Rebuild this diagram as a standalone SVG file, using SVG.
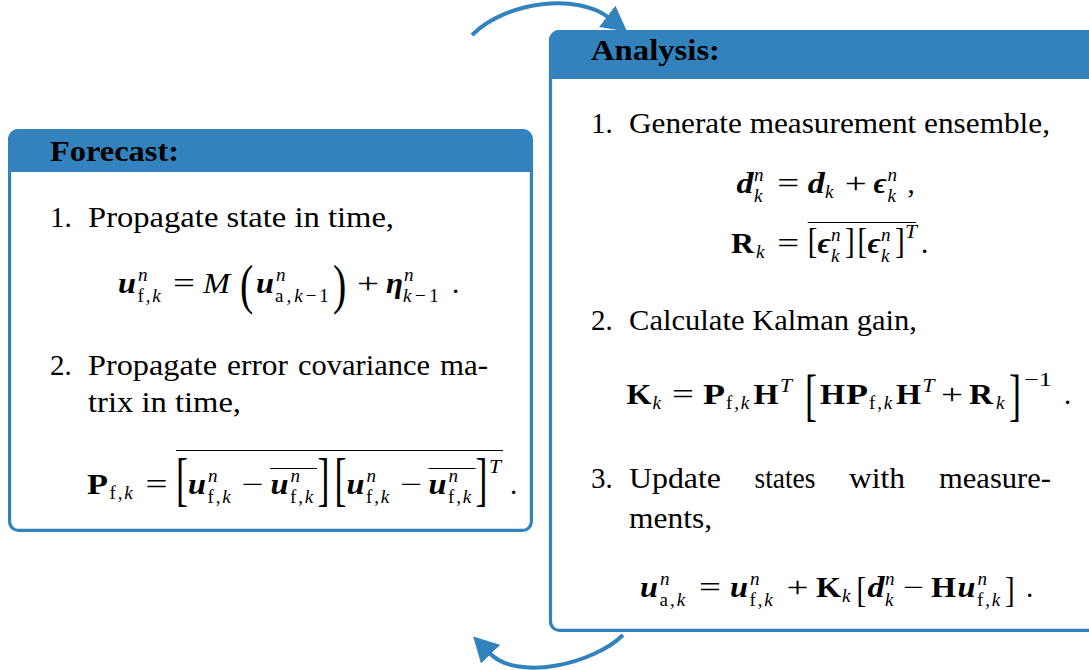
<svg xmlns="http://www.w3.org/2000/svg" width="1089" height="670" viewBox="0 0 1089 670" font-family="'Liberation Serif', 'DejaVu Serif', serif">
<defs>
<style>
text { font-family: 'Liberation Serif', 'DejaVu Serif', serif; font-size: 29px; fill: #000; }
.bf { font-weight: bold; }
.bi { font-weight: bold; font-style: italic; }
.it { font-style: italic; }
.s { font-size: 19px; }
.w1 { letter-spacing: 1.8px; }
.box { fill: #fff; stroke: #3282be; stroke-width: 3.2; }
.hdr { fill: #3282be; }
.arr { fill: none; stroke: #3282be; stroke-width: 4; marker-end: url(#ah); }
.ovl { stroke: #000; stroke-width: 1.2; }
.big { font-size: 36px; }
</style>
<marker id="ah" markerUnits="userSpaceOnUse" viewBox="0 0 25 27" markerWidth="25" markerHeight="27" refX="1" refY="13.5" orient="auto">
<path d="M0,0 L25,13.5 L0,27 Z" fill="#3282be"/>
</marker>
</defs>
<rect width="1089" height="670" fill="#fff"/>

<g id="connectors">
<path class="arr" d="M472,35 C508,0 578,-6 608,17"/>
<path class="arr" d="M623,635 C595,663 518,682 490,653.5"/>
</g>

<g id="forecast">
<rect class="box" x="9.6" y="130.6" width="521.8" height="399.8" rx="9"/>
<path class="hdr" d="M8,172 V139.5 A10.5,10.5 0 0 1 18.5,129 H522.5 A10.5,10.5 0 0 1 533,139.5 V172 Z"/>
<text class="bf" x="50" y="161" textLength="129" lengthAdjust="spacingAndGlyphs">Forecast:</text>
<text x="50" y="227">1.</text>
<text x="88" y="227" textLength="306" lengthAdjust="spacingAndGlyphs">Propagate state in time,</text>
<g id="eq-f1">
<text class="bi" x="118" y="293" textLength="18" lengthAdjust="spacingAndGlyphs">u</text>
<text class="s"><tspan class="it" x="138" y="280.5">n</tspan><tspan class="w1" x="137.5" y="301.7">f,<tspan class="it">k</tspan></tspan></text>
<text x="173" y="293" textLength="22" lengthAdjust="spacingAndGlyphs">=</text>
<text class="it" x="203" y="293" textLength="27" lengthAdjust="spacingAndGlyphs">M</text>
<text transform="translate(240,303) scale(1,1.38)" style="font-size:40px">(</text>
<text class="bi" x="256" y="293" textLength="18" lengthAdjust="spacingAndGlyphs">u</text>
<text class="s"><tspan class="it" x="276" y="280.5">n</tspan><tspan x="275" y="301.7" style="letter-spacing:3px">a,<tspan class="it">k</tspan>−1</tspan></text>
<text transform="translate(333,303) scale(1,1.38)" style="font-size:40px">)</text>
<text x="357" y="293" textLength="22" lengthAdjust="spacingAndGlyphs">+</text>
<text class="bi" x="386" y="293" textLength="17" lengthAdjust="spacingAndGlyphs">η</text>
<text class="s"><tspan class="it" x="404" y="280.5">n</tspan><tspan x="403" y="301.7" style="letter-spacing:3.6px"><tspan class="it">k</tspan>−1</tspan></text>
<text x="452" y="293">.</text>
</g>
<text x="50" y="375">2.</text>
<text x="88" y="375" textLength="129" lengthAdjust="spacingAndGlyphs">Propagate</text>
<text x="227" y="375" textLength="61" lengthAdjust="spacingAndGlyphs">error</text>
<text x="298" y="375" textLength="132" lengthAdjust="spacingAndGlyphs">covariance</text>
<text x="440" y="375" textLength="48" lengthAdjust="spacingAndGlyphs">ma-</text>
<text x="88" y="412" textLength="153" lengthAdjust="spacingAndGlyphs">trix in time,</text>
<g id="eq-f2">
<text class="bf" x="87" y="494" textLength="21" lengthAdjust="spacingAndGlyphs">P</text>
<text class="s w1" x="109.5" y="499">f,<tspan class="it">k</tspan></text>
<text x="145.5" y="494" textLength="22" lengthAdjust="spacingAndGlyphs">=</text>
<line class="ovl" x1="176" y1="450.5" x2="503" y2="450.5"/>
<text class="big" transform="translate(176,499) scale(1,1.63)">[</text>
<text class="bi" x="188" y="494" textLength="18" lengthAdjust="spacingAndGlyphs">u</text>
<text class="s"><tspan class="it" x="208" y="481.5">n</tspan><tspan class="w1" x="207.5" y="502.7">f,<tspan class="it">k</tspan></tspan></text>
<text x="241.5" y="494" textLength="22" lengthAdjust="spacingAndGlyphs">−</text>
<line class="ovl" x1="270" y1="468.5" x2="317" y2="468.5"/>
<text class="bi" x="270.5" y="494" textLength="18" lengthAdjust="spacingAndGlyphs">u</text>
<text class="s"><tspan class="it" x="290.5" y="481.5">n</tspan><tspan class="w1" x="290" y="502.7">f,<tspan class="it">k</tspan></tspan></text>
<text class="big" transform="translate(317.5,499) scale(1,1.63)">]</text>
<text class="big" transform="translate(334.5,499) scale(1,1.63)">[</text>
<text class="bi" x="346.5" y="494" textLength="18" lengthAdjust="spacingAndGlyphs">u</text>
<text class="s"><tspan class="it" x="366.5" y="481.5">n</tspan><tspan class="w1" x="366" y="502.7">f,<tspan class="it">k</tspan></tspan></text>
<text x="400" y="494" textLength="22" lengthAdjust="spacingAndGlyphs">−</text>
<line class="ovl" x1="428.5" y1="468.5" x2="475.5" y2="468.5"/>
<text class="bi" x="428.5" y="494" textLength="18" lengthAdjust="spacingAndGlyphs">u</text>
<text class="s"><tspan class="it" x="448.5" y="481.5">n</tspan><tspan class="w1" x="448" y="502.7">f,<tspan class="it">k</tspan></tspan></text>
<text class="big" transform="translate(475.5,499) scale(1,1.63)">]</text>
<text class="s it" x="489" y="473" textLength="12" lengthAdjust="spacingAndGlyphs">T</text>
<text x="510" y="494">.</text>
</g>
</g>

<g id="analysis">
<rect class="box" x="550.5" y="31.6" width="580" height="598.8" rx="9"/>
<path class="hdr" d="M549,79 V40.5 A10.5,10.5 0 0 1 559.5,30 H1100 V79 Z"/>
<text class="bf" x="591" y="60" textLength="129" lengthAdjust="spacingAndGlyphs">Analysis:</text>
<text x="591" y="133">1.</text>
<text x="629" y="133" textLength="421" lengthAdjust="spacingAndGlyphs">Generate measurement ensemble,</text>
<g id="eq-a1">
<text class="bi" x="736.5" y="193" textLength="17" lengthAdjust="spacingAndGlyphs">d</text>
<text class="s it"><tspan x="754" y="180.5">n</tspan><tspan x="754" y="201.7">k</tspan></text>
<text x="777.3" y="193" textLength="22" lengthAdjust="spacingAndGlyphs">=</text>
<text class="bi" x="807.7" y="193" textLength="17" lengthAdjust="spacingAndGlyphs">d</text>
<text class="s it" x="825" y="197.5">k</text>
<text x="844.7" y="193" textLength="22" lengthAdjust="spacingAndGlyphs">+</text>
<text class="bi" x="873.5" y="193" textLength="13" lengthAdjust="spacingAndGlyphs">ϵ</text>
<text class="s it"><tspan x="887.5" y="180.5">n</tspan><tspan x="887.5" y="201.7">k</tspan></text>
<text x="907.5" y="193">,</text>
<text class="bf" x="731" y="253" textLength="23" lengthAdjust="spacingAndGlyphs">R</text>
<text class="s it" x="756" y="257.5">k</text>
<text x="777.3" y="253" textLength="22" lengthAdjust="spacingAndGlyphs">=</text>
<line class="ovl" x1="807.7" y1="222.5" x2="916" y2="222.5"/>
<text transform="translate(807.7,253) scale(1,1.2)">[</text>
<text class="bi" x="817.5" y="253" textLength="13" lengthAdjust="spacingAndGlyphs">ϵ</text>
<text class="s it"><tspan x="831" y="240.5">n</tspan><tspan x="831" y="261.7">k</tspan></text>
<text transform="translate(845,253) scale(1,1.2)">]</text>
<text transform="translate(857.5,253) scale(1,1.2)">[</text>
<text class="bi" x="867.5" y="253" textLength="13" lengthAdjust="spacingAndGlyphs">ϵ</text>
<text class="s it"><tspan x="881" y="240.5">n</tspan><tspan x="881" y="261.7">k</tspan></text>
<text transform="translate(895,253) scale(1,1.2)">]</text>
<text class="s it" x="905" y="238" textLength="12" lengthAdjust="spacingAndGlyphs">T</text>
<text x="921" y="253">.</text>
</g>
<text x="591" y="330">2.</text>
<text x="629" y="330" textLength="288" lengthAdjust="spacingAndGlyphs">Calculate Kalman gain,</text>
<g id="eq-a2">
<text class="bf" x="626.5" y="404" textLength="25" lengthAdjust="spacingAndGlyphs">K</text>
<text class="s it" x="652.5" y="408.5">k</text>
<text x="672" y="404" textLength="22" lengthAdjust="spacingAndGlyphs">=</text>
<text class="bf" x="703" y="404" textLength="22" lengthAdjust="spacingAndGlyphs">P</text>
<text class="s w1" x="726" y="408.5">f,<tspan class="it">k</tspan></text>
<text class="bf" x="753.5" y="404" textLength="25" lengthAdjust="spacingAndGlyphs">H</text>
<text class="s it" x="780" y="392" textLength="12" lengthAdjust="spacingAndGlyphs">T</text>
<text class="big" transform="translate(805,414) scale(1,1.565)">[</text>
<text class="bf" x="820" y="404" textLength="25" lengthAdjust="spacingAndGlyphs">H</text>
<text class="bf" x="846" y="404" textLength="22" lengthAdjust="spacingAndGlyphs">P</text>
<text class="s w1" x="869" y="408.5">f,<tspan class="it">k</tspan></text>
<text class="bf" x="896" y="404" textLength="25" lengthAdjust="spacingAndGlyphs">H</text>
<text class="s it" x="922.5" y="392" textLength="12" lengthAdjust="spacingAndGlyphs">T</text>
<text x="941" y="404" textLength="22" lengthAdjust="spacingAndGlyphs">+</text>
<text class="bf" x="969" y="404" textLength="24" lengthAdjust="spacingAndGlyphs">R</text>
<text class="s it" x="996" y="408.5">k</text>
<text class="big" transform="translate(1009,414) scale(1,1.565)">]</text>
<text class="s" x="1024" y="386" textLength="28" lengthAdjust="spacingAndGlyphs">−1</text>
<text x="1064" y="404">.</text>
</g>
<text x="591" y="488">3.</text>
<text x="629" y="488" textLength="92" lengthAdjust="spacingAndGlyphs">Update</text>
<text x="754.5" y="488" textLength="61" lengthAdjust="spacingAndGlyphs">states</text>
<text x="849" y="488" textLength="56" lengthAdjust="spacingAndGlyphs">with</text>
<text x="939" y="488" textLength="112" lengthAdjust="spacingAndGlyphs">measure-</text>
<text x="629" y="528" textLength="83" lengthAdjust="spacingAndGlyphs">ments,</text>
<g id="eq-a3">
<text class="bi" x="640" y="597" textLength="18" lengthAdjust="spacingAndGlyphs">u</text>
<text class="s"><tspan class="it" x="660" y="584.5">n</tspan><tspan x="659.5" y="605.7" style="letter-spacing:2px">a,<tspan class="it">k</tspan></tspan></text>
<text x="699" y="597" textLength="22" lengthAdjust="spacingAndGlyphs">=</text>
<text class="bi" x="730" y="597" textLength="18" lengthAdjust="spacingAndGlyphs">u</text>
<text class="s"><tspan class="it" x="750" y="584.5">n</tspan><tspan class="w1" x="749.5" y="605.7">f,<tspan class="it">k</tspan></tspan></text>
<text x="786.5" y="597" textLength="22" lengthAdjust="spacingAndGlyphs">+</text>
<text class="bf" x="816" y="597" textLength="25" lengthAdjust="spacingAndGlyphs">K</text>
<text class="s it" x="842" y="601.5">k</text>
<text transform="translate(856.5,602) scale(1,1.27)">[</text>
<text class="bi" x="867.5" y="597" textLength="17" lengthAdjust="spacingAndGlyphs">d</text>
<text class="s it"><tspan x="885" y="584.5">n</tspan><tspan x="885" y="605.7">k</tspan></text>
<text x="903" y="597" textLength="21" lengthAdjust="spacingAndGlyphs">−</text>
<text class="bf" x="931" y="597" textLength="25" lengthAdjust="spacingAndGlyphs">H</text>
<text class="bi" x="957.5" y="597" textLength="18" lengthAdjust="spacingAndGlyphs">u</text>
<text class="s"><tspan class="it" x="977.5" y="584.5">n</tspan><tspan class="w1" x="977" y="605.7">f,<tspan class="it">k</tspan></tspan></text>
<text transform="translate(1005,602) scale(1,1.27)">]</text>
<text x="1026" y="597">.</text>
</g>
</g>
</svg>
